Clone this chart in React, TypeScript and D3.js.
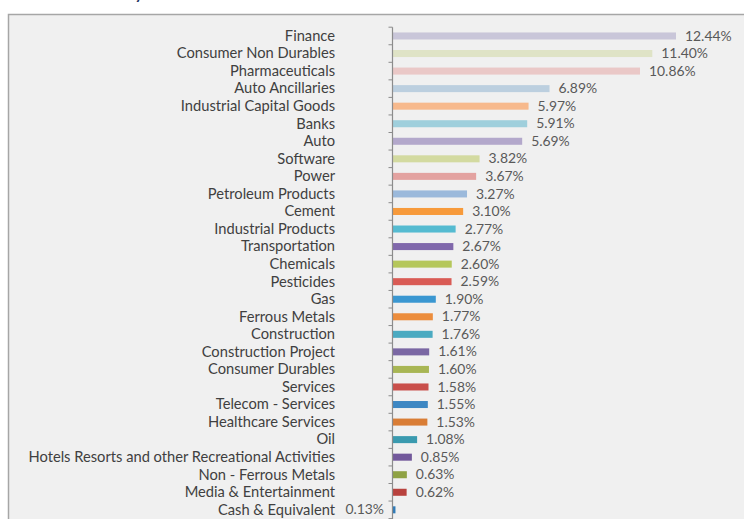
import React from "react";
import * as d3 from "d3";

const categories = [
  "Finance", "Consumer Non Durables", "Pharmaceuticals", "Auto Ancillaries",
  "Industrial Capital Goods", "Banks", "Auto", "Software", "Power",
  "Petroleum Products", "Cement", "Industrial Products", "Transportation",
  "Chemicals", "Pesticides", "Gas", "Ferrous Metals", "Construction",
  "Construction Project", "Consumer Durables", "Services", "Telecom - Services",
  "Healthcare Services", "Oil", "Hotels Resorts and other Recreational Activities",
  "Non - Ferrous Metals", "Media & Entertainment", "Cash & Equivalent",
];

const values = [
  12.44, 11.40, 10.86, 6.89, 5.97, 5.91, 5.69, 3.82, 3.67, 3.27, 3.10, 2.77,
  2.67, 2.60, 2.59, 1.90, 1.77, 1.76, 1.61, 1.60, 1.58, 1.55, 1.53, 1.08,
  0.85, 0.63, 0.62, 0.13,
];

const colors = [
  "#c9c6d9", "#dfe3c6", "#eac8c7", "#bccfdf", "#f7b98c", "#9fcfdc", "#b3a8cb",
  "#d3daa0", "#e3a2a0", "#9bb9db", "#f79a3b", "#55bbd1", "#8068ab", "#b5c75b",
  "#d95b55", "#3a97d1", "#ec8d3d", "#4aaac1", "#7a67a3", "#a8b654", "#c94f4b",
  "#3d87c3", "#d97d35", "#3a9aaf", "#72589b", "#8fa244", "#b8423e", "#2f7bb8",
];

const W = 744;
const H = 519;
const axisX = 392.5;
const plotTop = 27.2;
const plotBottom = 518.6;
const font = "Lato, 'Open Sans', sans-serif";

export default function App() {
  const y = d3
    .scaleBand<string>()
    .domain(categories)
    .range([plotTop, plotBottom])
    .paddingInner(0.6)
    .paddingOuter(0.3);
  const x = d3.scaleLinear().domain([0, 12.44]).range([axisX, 676]);
  const step = y.step();
  const tickYs = d3.range(categories.length + 1).map((i) => plotTop + i * step);

  return (
    <svg
      width={W}
      height={H}
      style={{ position: "absolute", left: 0, top: 0, background: "#ffffff" }}
      fontFamily={font}
    >
      <text x={84} y={-1.5} fontSize={16} fontWeight="bold" fill="#1f3864">
        Industry Allocation
      </text>
      <rect x={8.5} y={14.5} width={W + 10} height={H + 10} fill="#f0f0f0" stroke="#a6a6a6" strokeWidth={1.5} />
      {categories.map((c, i) => {
        const cy = (y(c) as number) + y.bandwidth() / 2;
        const v = values[i];
        const small = v < 0.5;
        return (
          <g key={c}>
            <rect
              x={x(0)}
              y={y(c)}
              width={x(v) - x(0)}
              height={y.bandwidth()}
              fill={colors[i]}
            />
            <text x={335} y={cy} dy="0.33em" textAnchor="end" fontSize={14.7} fill="#404040">
              {c}
            </text>
            <text
              x={small ? 384 : x(v) + 9}
              y={cy}
              dy="0.33em"
              textAnchor={small ? "end" : "start"}
              fontSize={13.9}
              fill="#595959"
            >
              {d3.format(".2f")(v) + "%"}
            </text>
          </g>
        );
      })}
      <line x1={axisX} x2={axisX} y1={plotTop} y2={H} stroke="#8c8c8c" strokeWidth={1.2} />
      {tickYs.map((t, i) => (
        <line key={i} x1={axisX - 4} x2={axisX} y1={t} y2={t} stroke="#8c8c8c" strokeWidth={1} />
      ))}
    </svg>
  );
}
